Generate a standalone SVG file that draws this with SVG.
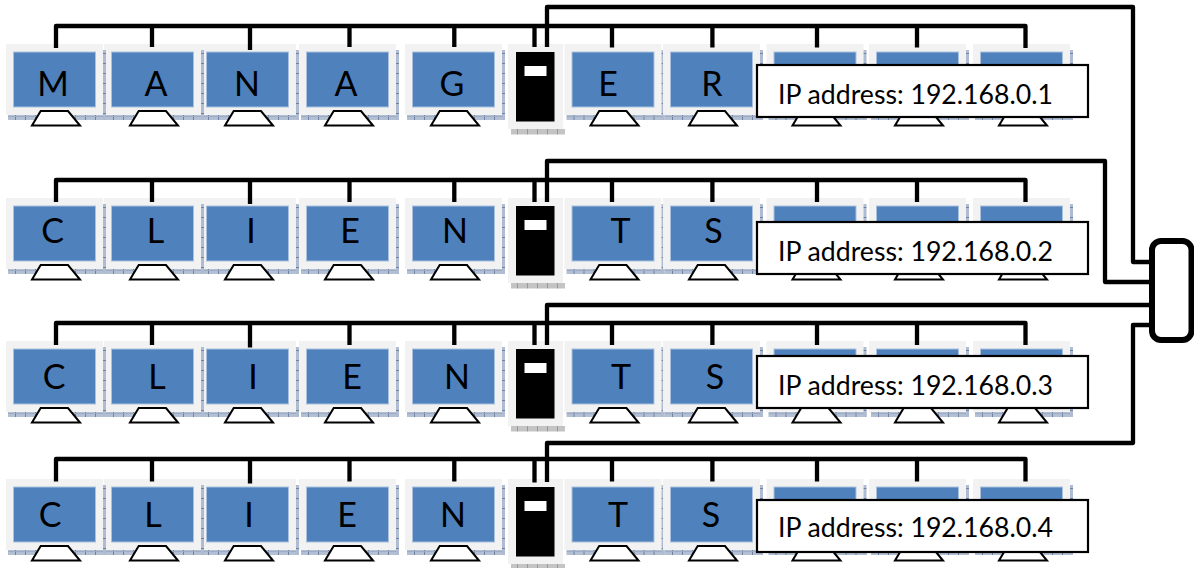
<svg xmlns="http://www.w3.org/2000/svg" xmlns:xlink="http://www.w3.org/1999/xlink" width="1194" height="568" viewBox="0 0 1194 568">
<style>
.panel{fill:#f2f2f2}
.screen{fill:#4f81bd;stroke:#a9c1de;stroke-width:1}
.stand{fill:#fff;stroke:#000;stroke-width:2;stroke-linejoin:miter}
.case{fill:#000}
.slot{fill:#fff}
.wire{fill:none;stroke:#000;stroke-width:4.300;stroke-linejoin:round}
.ipbox{fill:#fff;stroke:#000;stroke-width:2.200}
.hub{fill:#fff;stroke:#000;stroke-width:6}
.letter{font-family:"Lato","Liberation Sans",sans-serif;font-size:34px;fill:#000;text-anchor:middle}
.ip{font-family:"Lato","Liberation Sans",sans-serif;font-size:27px;fill:#000}
</style>
<defs>
<pattern id="hatchH" patternUnits="userSpaceOnUse" width="10" height="5">
<rect width="10" height="5" fill="#b3bfd2"/><rect x="9" width="1" height="5" fill="#6f82a3"/><rect y="2" width="10" height="1" fill="#9dabc4"/>
</pattern>
<pattern id="hatchG" patternUnits="userSpaceOnUse" width="10" height="5">
<rect width="10" height="5" fill="#c4c4c4"/><rect x="9" width="1" height="5" fill="#989898"/>
</pattern>
<pattern id="hatchV" patternUnits="userSpaceOnUse" width="3" height="10">
<rect width="3" height="10" fill="#aebbd0"/><rect y="9" width="3" height="1" fill="#6f82a3"/>
</pattern>
<g id="monitor">
<rect x="2" y="71" width="98" height="5" fill="url(#hatchH)"/>
<rect class="panel" width="97" height="71"/>
<rect x="97" y="6" width="3" height="70" fill="url(#hatchV)"/>
<rect class="screen" x="7.5" y="8" width="82" height="55"/>
<path class="stand" d="M34.7 67H62L74 81.5H26Z"/>
</g>
<g id="tower">
<rect x="3" y="85" width="54" height="5.5" fill="url(#hatchG)"/>
<rect class="panel" width="55" height="85"/>
<rect class="case" x="8" y="8" width="38.5" height="69.5"/>
<rect class="slot" x="16.5" y="22" width="22" height="10"/>
</g>
</defs>

<g id="row1">
<g id="r1-n5"><use href="#monitor" x="405" y="44"/><text class="letter" x="452" y="96">G</text></g>
<g id="r1-n4"><use href="#monitor" x="299" y="44"/><text class="letter" x="346" y="96">A</text></g>
<g id="r1-n3"><use href="#monitor" x="199" y="44"/><text class="letter" x="247" y="96">N</text></g>
<g id="r1-n2"><use href="#monitor" x="104" y="44"/><text class="letter" x="156" y="96">A</text></g>
<g id="r1-n1"><use href="#monitor" x="6" y="44"/><text class="letter" x="53" y="96">M</text></g>
<g id="r1-tower"><use href="#tower" x="508" y="44"/></g>
<g id="r1-n6"><use href="#monitor" x="564.5" y="44"/><text class="letter" x="608" y="96">E</text></g>
<g id="r1-n7"><use href="#monitor" x="663" y="44"/><text class="letter" x="712" y="96">R</text></g>
<g id="r1-n8"><use href="#monitor" x="766.5" y="44"/></g>
<g id="r1-n9"><use href="#monitor" x="869" y="44"/></g>
<g id="r1-n10"><use href="#monitor" x="973" y="44"/></g>
</g>

<g id="row2">
<g id="r2-n5"><use href="#monitor" x="405" y="198"/><text class="letter" x="455" y="243">N</text></g>
<g id="r2-n4"><use href="#monitor" x="299" y="198"/><text class="letter" x="350" y="243">E</text></g>
<g id="r2-n3"><use href="#monitor" x="199" y="198"/><text class="letter" x="251" y="243">I</text></g>
<g id="r2-n2"><use href="#monitor" x="104" y="198"/><text class="letter" x="155.500" y="243">L</text></g>
<g id="r2-n1"><use href="#monitor" x="6" y="198"/><text class="letter" x="52.500" y="243">C</text></g>
<g id="r2-tower"><use href="#tower" x="508" y="198"/></g>
<g id="r2-n6"><use href="#monitor" x="564.5" y="198"/><text class="letter" x="620.500" y="243">T</text></g>
<g id="r2-n7"><use href="#monitor" x="663" y="198"/><text class="letter" x="713.500" y="243">S</text></g>
<g id="r2-n8"><use href="#monitor" x="766.5" y="198"/></g>
<g id="r2-n9"><use href="#monitor" x="869" y="198"/></g>
<g id="r2-n10"><use href="#monitor" x="973" y="198"/></g>
</g>

<g id="row3">
<g id="r3-n5"><use href="#monitor" x="405" y="341"/><text class="letter" x="457" y="389">N</text></g>
<g id="r3-n4"><use href="#monitor" x="299" y="341"/><text class="letter" x="352" y="389">E</text></g>
<g id="r3-n3"><use href="#monitor" x="199" y="341"/><text class="letter" x="253" y="389">I</text></g>
<g id="r3-n2"><use href="#monitor" x="104" y="341"/><text class="letter" x="157" y="389">L</text></g>
<g id="r3-n1"><use href="#monitor" x="6" y="341"/><text class="letter" x="54" y="389">C</text></g>
<g id="r3-tower"><use href="#tower" x="508" y="341"/></g>
<g id="r3-n6"><use href="#monitor" x="564.5" y="341"/><text class="letter" x="621" y="389">T</text></g>
<g id="r3-n7"><use href="#monitor" x="663" y="341"/><text class="letter" x="715" y="389">S</text></g>
<g id="r3-n8"><use href="#monitor" x="766.5" y="341"/></g>
<g id="r3-n9"><use href="#monitor" x="869" y="341"/></g>
<g id="r3-n10"><use href="#monitor" x="973" y="341"/></g>
</g>

<g id="row4">
<g id="r4-n5"><use href="#monitor" x="405" y="479"/><text class="letter" x="453" y="527">N</text></g>
<g id="r4-n4"><use href="#monitor" x="299" y="479"/><text class="letter" x="347" y="527">E</text></g>
<g id="r4-n3"><use href="#monitor" x="199" y="479"/><text class="letter" x="249" y="527">I</text></g>
<g id="r4-n2"><use href="#monitor" x="104" y="479"/><text class="letter" x="153" y="527">L</text></g>
<g id="r4-n1"><use href="#monitor" x="6" y="479"/><text class="letter" x="50" y="527">C</text></g>
<g id="r4-tower"><use href="#tower" x="508" y="479"/></g>
<g id="r4-n6"><use href="#monitor" x="564.5" y="479"/><text class="letter" x="618" y="527">T</text></g>
<g id="r4-n7"><use href="#monitor" x="663" y="479"/><text class="letter" x="711" y="527">S</text></g>
<g id="r4-n8"><use href="#monitor" x="766.5" y="479"/></g>
<g id="r4-n9"><use href="#monitor" x="869" y="479"/></g>
<g id="r4-n10"><use href="#monitor" x="973" y="479"/></g>
</g>

<g id="connectors">
<path class="wire" d="M56 48V26H1025.500V48M152 26V47M250 26V50M349.500 26V47M454.300 26V47M534.500 26V47M612 26V47.500M712.400 26V47.500M817 26V47.500M917 26V47.500"/>
<path class="wire" d="M56 202V180H1025.500V202M152 180V202M250 180V204M349.500 180V202M454.300 180V202M534.500 180V202M612 180V202M712.400 180V202M817 180V202M917 180V202"/>
<path class="wire" d="M56 345V323H1025.500V345M152 323V345M250 323V347.500M349.500 323V345M454.300 323V345M534.500 323V345M612 323V345M712.400 323V345M817 323V345M917 323V345"/>
<path class="wire" d="M56 481.500V459H1025.500V481.500M152 459V481.500M250 459V483.500M349.500 459V481.500M454.300 459V481.500M534.500 459V482.500M612 459V481.500M712.400 459V481.500M817 459V481.500M917 459V481.500"/>
<path class="wire" d="M547 47V7H1133V262H1150"/>
<path class="wire" d="M547 202V161H1105V282H1150"/>
<path class="wire" d="M547 345V305H1150"/>
<path class="wire" d="M547 482V443H1133V325H1150"/>
</g>

<g id="ip1"><rect class="ipbox" x="757" y="65" width="331" height="52"/><text class="ip" x="778" y="104" textLength="275" lengthAdjust="spacingAndGlyphs">IP address: 192.168.0.1</text></g>
<g id="ip2"><rect class="ipbox" x="757" y="222" width="331" height="52"/><text class="ip" x="778" y="261" textLength="275" lengthAdjust="spacingAndGlyphs">IP address: 192.168.0.2</text></g>
<g id="ip3"><rect class="ipbox" x="757" y="356" width="331" height="52"/><text class="ip" x="778" y="395" textLength="275" lengthAdjust="spacingAndGlyphs">IP address: 192.168.0.3</text></g>
<g id="ip4"><rect class="ipbox" x="757" y="500" width="331" height="52"/><text class="ip" x="778" y="537" textLength="275" lengthAdjust="spacingAndGlyphs">IP address: 192.168.0.4</text></g>

<g id="hub"><rect class="hub" x="1152" y="241" width="39.500" height="99" rx="9"/></g>
</svg>
